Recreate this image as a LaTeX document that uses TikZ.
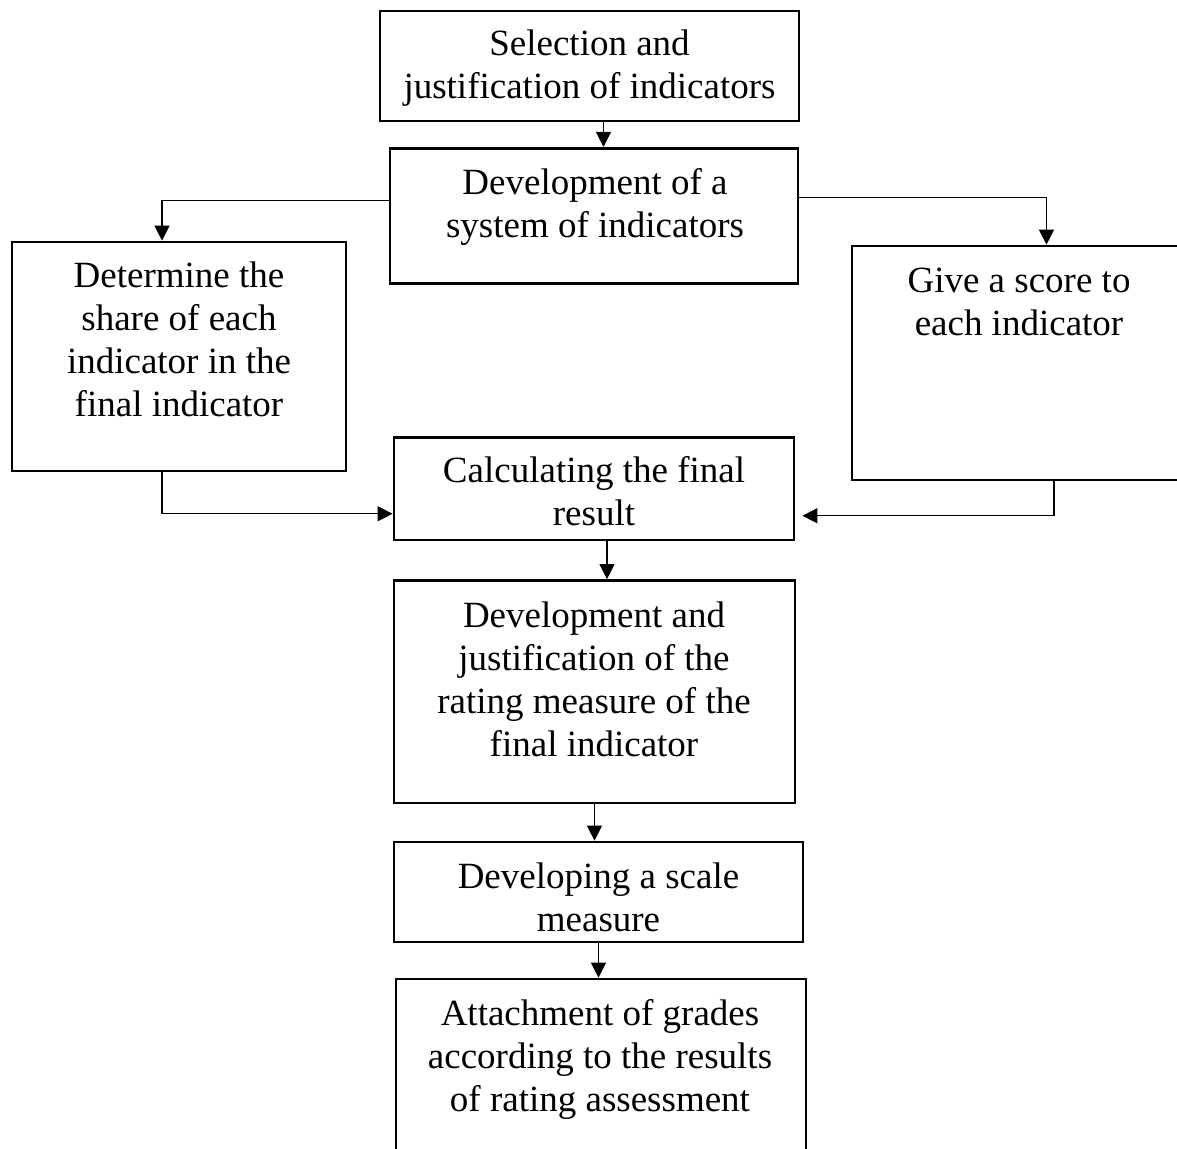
\documentclass[tikz,border=0pt]{standalone}
\usepackage{fontspec}
\setmainfont{Liberation Serif}
\usetikzlibrary{arrows.meta}
\tikzset{
  box/.style={draw, line width=2.7pt, rectangle, inner sep=0pt},
  txt/.style={align=center, inner sep=0pt, font=\fontsize{37}{43}\selectfont},
  conn/.style={line width=1.2pt, -{Triangle[length=15pt,width=15pt]}},
}
\begin{document}
\begin{tikzpicture}[x=1pt,y=-1pt]
\useasboundingbox[fill=white] (0,0) rectangle (1177,1148);
% boxes
\node[box, minimum width=419pt, minimum height=110pt] (b1) at (589.5,66) {};
\node[box, minimum width=408pt, minimum height=135.5pt] (b2) at (594,216) {};
\node[box, minimum width=334pt, minimum height=229pt] (b3) at (179,356.5) {};
\node[box, minimum width=330pt, minimum height=234pt] (b4) at (1017,363) {};
\node[box, minimum width=400pt, minimum height=102.5pt] (b5) at (594,488.75) {};
\node[box, minimum width=401pt, minimum height=222.5pt] (b6) at (594.5,691.75) {};
\node[box, minimum width=409pt, minimum height=100pt] (b7) at (598.5,892) {};
\node[box, minimum width=410pt, minimum height=173pt] (b8) at (601,1065.5) {};
% texts
\node[txt] (t1) at (589.5,68.5) {Selection and\\justification of indicators};
\node[txt] (t2) at (595,207) {Development of a\\system of indicators};
\node[txt] (t3) at (179,339) {Determine the\\share of each\\indicator in the\\final indicator};
\node[txt] (t4) at (1019,302) {Give a score to\\each indicator};
\node[txt] (t5) at (594,491) {Calculating the final\\result};
\node[txt] (t6) at (594,679) {Development and\\justification of the\\rating measure of the\\final indicator};
\node[txt] (t7) at (598.5,897) {Developing a scale\\measure};
\node[txt] (t8) at (600,1059) {Attachment of grades\\according to the results\\of rating assessment};
% connectors
\draw[conn] ([xshift=14pt]b1.south) -- ([xshift=14pt]b1.south |- b2.north);
\draw[conn] ([yshift=15.5pt]b2.west) -| ([xshift=-17pt]b3.north);
\draw[conn] ([yshift=18.5pt]b2.east) -| ([xshift=29.5pt]b4.north);
\draw[conn] ([xshift=-17pt]b3.south) |- ([yshift=-25pt]b5.west);
\draw[conn] ([xshift=37pt]b4.south) |- ([xshift=7pt,yshift=-27pt]b5.east);
\draw[conn] ([xshift=13pt]b5.south) -- ([xshift=13pt]b5.south |- b6.north);
\draw[conn] (b6.south) -- (b6.south |- b7.north);
\draw[conn] (b7.south) -- (b7.south |- b8.north);
\end{tikzpicture}
\end{document}
